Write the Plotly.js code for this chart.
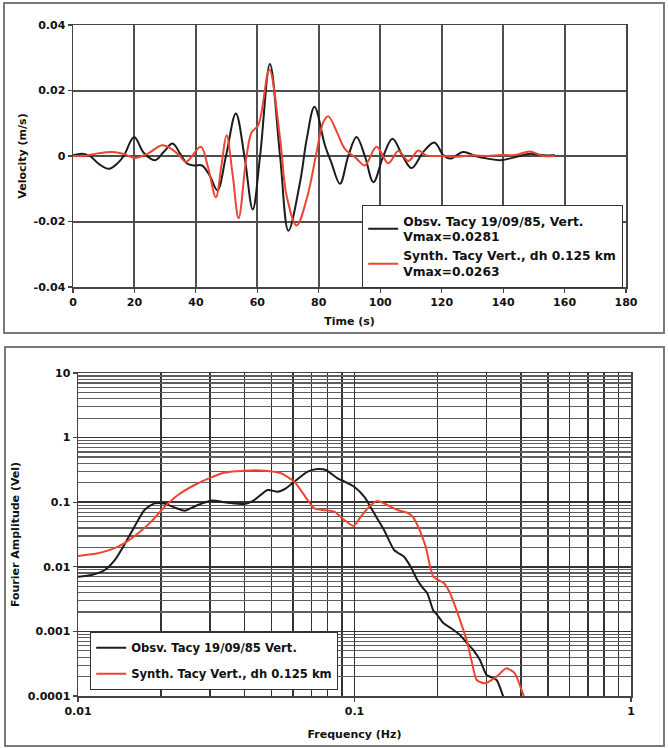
<!DOCTYPE html>
<html>
<head>
<meta charset="utf-8">
<script src="https://cdn.plot.ly/plotly-3.0.1.min.js"></script>
<style>
  html, body { margin: 0; padding: 0; background: #ffffff; }
  #chart { width: 668px; height: 748px; }
</style>
</head>
<body>
<div id="chart"></div>
<script>
// ---------- Top panel: velocity time series ----------
const timeObs = [0, 3, 5.5, 8.5, 11.7, 14.5, 16.5, 19.9, 23, 26.7, 29.5, 32.4, 35, 37, 39.5, 42, 44.5, 47, 49.8, 53, 55.8, 58.5, 60.9, 64.1, 67.4, 70.1, 73.9, 76.1, 78.6, 82, 84, 86.9, 89.6, 92.3, 95, 97.8, 101, 104, 107.3, 110.2, 114, 117.6, 120.6, 122.7, 127, 131, 135, 139, 143.3, 148.8, 153, 156.9];
const velObs = [0.0002, 0.0007, 0, -0.0025, -0.0039, -0.0022, 0, 0.0058, 0.0010, -0.0013, 0.0012, 0.0038, 0.0005, -0.0022, -0.0029, -0.0029, -0.0060, -0.0105, 0, 0.0130, 0, -0.0163, 0, 0.0281, 0, -0.0228, -0.0080, 0.0053, 0.0150, 0.0033, -0.0018, -0.0085, 0, 0.0058, 0, -0.0080, 0, 0.0053, 0, -0.0037, 0.0012, 0.0041, 0.0002, -0.0008, 0.0012, 0, -0.0008, -0.0013, -0.0005, 0.0007, 0.0002, 0.0002];

const timeSyn = [0, 4, 8, 12.8, 16.5, 20.4, 24.5, 29, 32, 34.6, 36.8, 41.6, 43.8, 46.5, 48.3, 50, 52, 53.9, 56.5, 58.2, 60.3, 63.9, 67.4, 69.5, 72.8, 76.1, 79.3, 81.5, 83.1, 85.9, 88.5, 92.3, 95, 98.8, 102.6, 105.9, 109.2, 112.4, 115, 120, 125, 130, 135, 139, 144, 148.8, 153, 156.9];
const velSyn = [0, 0.0001, 0.0008, 0.0012, 0.0006, -0.0006, 0.0008, 0.0033, 0.0022, 0.0002, -0.0018, 0.0028, -0.0029, -0.0126, -0.0030, 0.0063, -0.0060, -0.0190, 0, 0.0073, 0.0094, 0.0263, 0.0053, -0.0120, -0.0212, -0.0130, 0.0012, 0.0104, 0.0121, 0.0073, 0.0022, -0.0008, -0.0029, 0.0028, -0.0022, 0.0015, -0.0015, 0.0017, 0.0002, 0, -0.0002, 0.0002, 0, 0.0003, 0.0003, 0.0014, 0, 0];

const velTickVals = [-0.04, -0.02, 0, 0.02, 0.04];
const velTickText = ['-0.04', '-0.02', '0', '0.02', '0.04'];

const nameObsTop = 'Obsv. Tacy 19/09/85, Vert.<br>Vmax=0.0281';
const nameSynTop = 'Synth. Tacy Vert., dh 0.125 km<br>Vmax=0.0263';

// ---------- Bottom panel: Fourier amplitude spectra ----------
const freqObs = [0.0100, 0.0112, 0.0125, 0.0136, 0.0147, 0.0160, 0.0174, 0.0189, 0.0203, 0.0223, 0.0243, 0.0271, 0.0303, 0.0348, 0.0400, 0.0434, 0.0485, 0.0527, 0.0565, 0.0606, 0.0677, 0.0735, 0.0788, 0.0868, 0.0918, 0.0997, 0.1084, 0.1178, 0.1279, 0.1390, 0.1450, 0.1510, 0.1597, 0.1688, 0.1760, 0.1834, 0.1928, 0.1993, 0.2095, 0.2250, 0.2407, 0.2550, 0.2690, 0.2843, 0.3003, 0.3130, 0.3265, 0.3500];
const ampObs = [0.00703, 0.00746, 0.00893, 0.0128, 0.0218, 0.0418, 0.0757, 0.0960, 0.0960, 0.0833, 0.0740, 0.0905, 0.1057, 0.0984, 0.0938, 0.1081, 0.1545, 0.1455, 0.1640, 0.2078, 0.2970, 0.3265, 0.3153, 0.2345, 0.2100, 0.1739, 0.1218, 0.0673, 0.0372, 0.0182, 0.0160, 0.01435, 0.0100, 0.00625, 0.00480, 0.00388, 0.00210, 0.00179, 0.00135, 0.00110, 0.00088, 0.00066, 0.000515, 0.00036, 0.000211, 0.000195, 0.000177, 0.000082];

const freqSyn = [0.0100, 0.0118, 0.0132, 0.0147, 0.0165, 0.0184, 0.0206, 0.0230, 0.0264, 0.0303, 0.0338, 0.0400, 0.0472, 0.0542, 0.0606, 0.0677, 0.0716, 0.0770, 0.0845, 0.0918, 0.0992, 0.1054, 0.1146, 0.1210, 0.1315, 0.1430, 0.1550, 0.1620, 0.1688, 0.1809, 0.1928, 0.2107, 0.2216, 0.2300, 0.2407, 0.2545, 0.2650, 0.2767, 0.2966, 0.3265, 0.3542, 0.3800, 0.4020, 0.4170];
const ampSyn = [0.0147, 0.0162, 0.0186, 0.0231, 0.0330, 0.0500, 0.0853, 0.1292, 0.1846, 0.2427, 0.2865, 0.3076, 0.3076, 0.2800, 0.2078, 0.1080, 0.0800, 0.0760, 0.0714, 0.0531, 0.0429, 0.0598, 0.0905, 0.1043, 0.0905, 0.0757, 0.0688, 0.0600, 0.0444, 0.0205, 0.00703, 0.00555, 0.00390, 0.00260, 0.00150, 0.000736, 0.00035, 0.000177, 0.000157, 0.000199, 0.000268, 0.000224, 0.000124, 0.000079];

const ampTickVals = [0.0001, 0.001, 0.01, 0.1, 1, 10];
const ampTickText = ['0.0001', '0.001', '0.01', '0.1', '1', '10'];
const freqTickVals = [0.01, 0.1, 1];
const freqTickText = ['0.01', '0.1', '1'];

const nameObsBot = 'Obsv. Tacy 19/09/85 Vert.';
const nameSynBot = 'Synth. Tacy Vert., dh 0.125 km';

// ---------- styling ----------
const W = 668, H = 748;
const BLACK = '#1c1c1c';
const RED = '#ee4430';
const FONT = { family: 'DejaVu Sans, Liberation Sans, Arial, sans-serif', weight: 'bold', size: 11, color: '#111111' };

const traces = [
  { x: timeObs, y: velObs, type: 'scatter', mode: 'lines', name: nameObsTop,
    line: { color: BLACK, width: 2, shape: 'spline', smoothing: 1 }, xaxis: 'x', yaxis: 'y', legend: 'legend' },
  { x: timeSyn, y: velSyn, type: 'scatter', mode: 'lines', name: nameSynTop,
    line: { color: RED, width: 2, shape: 'spline', smoothing: 1 }, xaxis: 'x', yaxis: 'y', legend: 'legend' },
  { x: freqObs, y: ampObs, type: 'scatter', mode: 'lines', name: nameObsBot, legendgroup: 'g1',
    line: { color: BLACK, width: 2, shape: 'spline', smoothing: 0.6 }, xaxis: 'x2', yaxis: 'y2', legend: 'legend2' },
  { x: freqSyn, y: ampSyn, type: 'scatter', mode: 'lines', name: nameSynBot, legendgroup: 'g2',
    line: { color: RED, width: 2, shape: 'spline', smoothing: 0.6 }, xaxis: 'x2', yaxis: 'y2', legend: 'legend2' }
];

const axisCommon = {
  showgrid: true, gridcolor: '#4e4e4e', gridwidth: 2,
  showline: true, linecolor: '#444', linewidth: 1.5, mirror: true,
  ticks: 'outside', ticklen: 4, tickcolor: '#444', tickwidth: 1.2,
  zeroline: false, fixedrange: true,
  tickfont: { family: FONT.family, weight: 'bold', size: 11, color: '#111' }
};

const layout = {
  width: W, height: H,
  margin: { l: 0, r: 0, t: 0, b: 0 },
  paper_bgcolor: '#ffffff', plot_bgcolor: '#ffffff',
  font: FONT,
  showlegend: true,
  xaxis: Object.assign({}, axisCommon, {
    domain: [73 / W, 626 / W], range: [0, 180], tick0: 0, dtick: 20, anchor: 'y',
    title: { text: 'Time (s)', font: { family: FONT.family, weight: 'bold', size: 11 }, standoff: 9 }
  }),
  yaxis: Object.assign({}, axisCommon, {
    domain: [1 - 287 / H, 1 - 25 / H], range: [-0.04, 0.04], anchor: 'x',
    tickmode: 'array', tickvals: velTickVals, ticktext: velTickText,
    title: { text: 'Velocity (m/s)', font: { family: FONT.family, weight: 'bold', size: 11 }, standoff: 4 }
  }),
  xaxis2: Object.assign({}, axisCommon, {
    domain: [78 / W, 631 / W], type: 'log', range: [-2, 0], anchor: 'y2',
    tickmode: 'array', tickvals: freqTickVals, ticktext: freqTickText,
    gridcolor: '#333333', gridwidth: 1.5,
    minor: { showgrid: true, dtick: 'D1', gridcolor: '#333333', gridwidth: 1.5, ticks: '' },
    title: { text: 'Frequency (Hz)', font: { family: FONT.family, weight: 'bold', size: 11 }, standoff: 13 }
  }),
  yaxis2: Object.assign({}, axisCommon, {
    domain: [1 - 696 / H, 1 - 373 / H], type: 'log', range: [-4, 1], anchor: 'x2',
    tickmode: 'array', tickvals: ampTickVals, ticktext: ampTickText,
    gridcolor: '#333333', gridwidth: 1.5,
    minor: { showgrid: true, dtick: 'D1', gridcolor: '#5e5e5e', gridwidth: 1.2, ticks: '' },
    title: { text: 'Fourier Amplitude (Vel)', font: { family: FONT.family, weight: 'bold', size: 11 }, standoff: 6 }
  }),
  legend: {
    x: 362 / W, y: 1 - 205 / H, xanchor: 'left', yanchor: 'top',
    bgcolor: '#ffffff', bordercolor: '#333333', borderwidth: 1.2,
    font: { family: FONT.family, weight: 'bold', size: 12.3, color: '#111' },
    itemwidth: 30, tracegroupgap: 0
  },
  legend2: {
    x: 90 / W, y: 1 - 632 / H, xanchor: 'left', yanchor: 'top',
    bgcolor: '#ffffff', bordercolor: '#333333', borderwidth: 1.2,
    font: { family: FONT.family, weight: 'bold', size: 11.6, color: '#111' },
    itemwidth: 30, traceorder: 'grouped', tracegroupgap: 7
  },
  shapes: [
    { type: 'rect', xref: 'paper', yref: 'paper', x0: 4 / W, x1: 664 / W, y0: 1 - 333 / H, y1: 1 - 3 / H,
      line: { color: '#7a7a7a', width: 2 }, layer: 'below' },
    { type: 'rect', xref: 'paper', yref: 'paper', x0: 5 / W, x1: 664 / W, y0: 1 - 746 / H, y1: 1 - 347 / H,
      line: { color: '#7a7a7a', width: 2 }, layer: 'below' }
  ]
};

Plotly.newPlot('chart', traces, layout, { staticPlot: true, displayModeBar: false });
</script>
</body>
</html>
